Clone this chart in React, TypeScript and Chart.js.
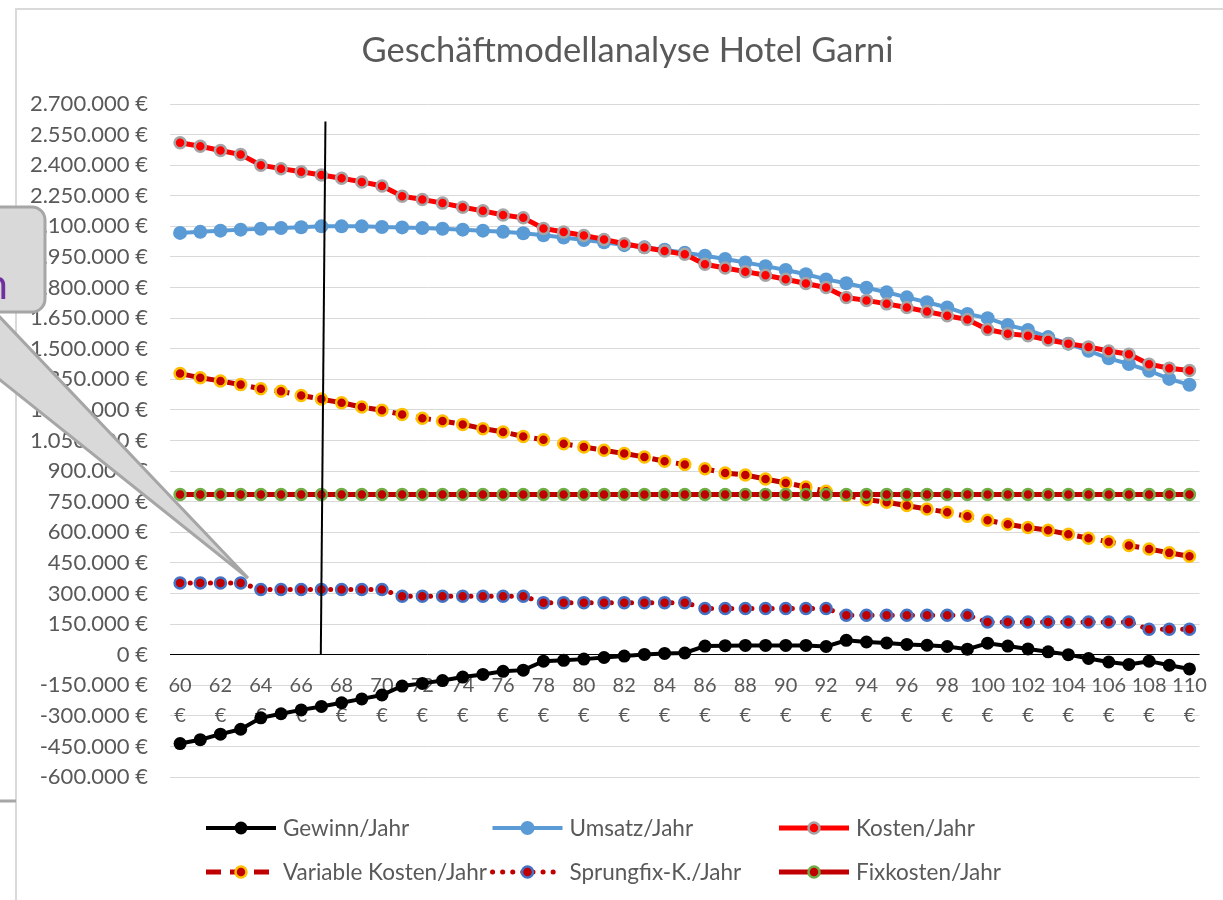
import React, { useEffect, useRef } from 'react';
import { Chart, registerables } from 'chart.js';

Chart.register(...registerables);

const categories = [
  '60 €', '61 €', '62 €', '63 €', '64 €', '65 €', '66 €', '67 €', '68 €', '69 €',
  '70 €', '71 €', '72 €', '73 €', '74 €', '75 €', '76 €', '77 €', '78 €', '79 €',
  '80 €', '81 €', '82 €', '83 €', '84 €', '85 €', '86 €', '87 €', '88 €', '89 €',
  '90 €', '91 €', '92 €', '93 €', '94 €', '95 €', '96 €', '97 €', '98 €', '99 €',
  '100 €', '101 €', '102 €', '103 €', '104 €', '105 €', '106 €', '107 €', '108 €', '109 €', '110 €',
];

const gewinnJahr = [
  -436000, -417000, -390000, -366000, -310000, -290000, -271000, -254000, -236000, -217000,
  -198000, -154000, -141000, -127000, -110000, -97000, -82000, -76000, -32000, -28000,
  -22000, -14000, -7000, 1000, 6000, 8000, 42000, 44000, 45000, 45000,
  45000, 45000, 40000, 70000, 62000, 57000, 50000, 46000, 40000, 27000,
  56000, 42000, 28000, 14000, 0, -19000, -36000, -48000, -32000, -52000, -70000,
];

const umsatzJahr = [
  2068000, 2073000, 2079000, 2084000, 2088000, 2092000, 2096000, 2100000, 2100000, 2100000,
  2097000, 2095000, 2092000, 2088000, 2084000, 2079000, 2073000, 2066000, 2056000, 2045000,
  2033000, 2022000, 2008000, 1997000, 1985000, 1971000, 1956000, 1940000, 1923000, 1905000,
  1886000, 1865000, 1840000, 1821000, 1799000, 1777000, 1752000, 1728000, 1702000, 1670000,
  1650000, 1616000, 1592000, 1557000, 1525000, 1490000, 1453000, 1425000, 1392000, 1352000, 1323000,
];

const kostenJahr = [
  2510000, 2493000, 2472000, 2452000, 2400000, 2383000, 2368000, 2352000, 2336000, 2318000,
  2298000, 2248000, 2232000, 2214000, 2194000, 2176000, 2156000, 2142000, 2090000, 2072000,
  2055000, 2036000, 2015000, 1996000, 1979000, 1963000, 1914000, 1896000, 1878000, 1860000,
  1841000, 1820000, 1800000, 1751000, 1737000, 1720000, 1702000, 1682000, 1662000, 1643000,
  1594000, 1574000, 1564000, 1543000, 1525000, 1509000, 1489000, 1473000, 1424000, 1404000, 1393000,
];

const variableKostenJahr = [
  1378000, 1358000, 1342000, 1324000, 1304000, 1291000, 1271000, 1253000, 1235000, 1214000,
  1198000, 1178000, 1159000, 1146000, 1129000, 1108000, 1092000, 1070000, 1054000, 1034000,
  1018000, 1002000, 986000, 969000, 948000, 932000, 911000, 891000, 881000, 861000,
  842000, 822000, 801000, 781000, 760000, 747000, 731000, 714000, 698000, 678000,
  659000, 639000, 623000, 610000, 590000, 571000, 553000, 535000, 518000, 499000, 482000,
];

const sprungfixJahr = [
  351000, 351000, 351000, 351000, 319000, 319000, 319000, 319000, 319000, 319000,
  319000, 286000, 286000, 286000, 286000, 286000, 286000, 286000, 255000, 255000,
  255000, 255000, 255000, 255000, 255000, 255000, 226000, 226000, 226000, 226000,
  226000, 226000, 226000, 193000, 193000, 193000, 193000, 193000, 193000, 193000,
  160000, 160000, 160000, 160000, 160000, 160000, 160000, 160000, 124000, 124000, 124000,
];

const fixkostenJahr = [
  785000, 785000, 785000, 785000, 785000, 785000, 785000, 785000, 785000, 785000,
  785000, 785000, 785000, 785000, 785000, 785000, 785000, 785000, 785000, 785000,
  785000, 785000, 785000, 785000, 785000, 785000, 785000, 785000, 785000, 785000,
  785000, 785000, 785000, 785000, 785000, 785000, 785000, 785000, 785000, 785000,
  785000, 785000, 785000, 785000, 785000, 785000, 785000, 785000, 785000, 785000, 785000,
];

const yMin = -600000;
const yMax = 2700000;
const yStep = 150000;

const TITLE = 'Geschäftmodellanalyse Hotel Garni';
const FONT = 'Lato, "Open Sans", sans-serif';
const TEXT = '#595959';

function euro(v: number): string {
  const s = Math.round(Math.abs(v)).toString().replace(/\B(?=(\d{3})+(?!\d))/g, '.');
  return (v < 0 ? '-' : '') + s + ' €';
}

const overlayPlugin = {
  id: 'overlay',
  beforeDraw(chart: any) {
    const { ctx, width, height } = chart;
    ctx.save();
    ctx.fillStyle = '#ffffff';
    ctx.fillRect(0, 0, width, height);
    ctx.strokeStyle = '#d9d9d9';
    ctx.lineWidth = 2;
    ctx.beginPath();
    ctx.moveTo(16, height + 5);
    ctx.lineTo(16, 9);
    ctx.lineTo(width + 5, 9);
    ctx.stroke();
    // title
    ctx.fillStyle = TEXT;
    ctx.font = `34.5px ${FONT}`;
    ctx.textAlign = 'center';
    ctx.textBaseline = 'middle';
    ctx.fillText(TITLE, 627.5, 51);
    ctx.restore();
  },
  afterDatasetsDraw(chart: any) {
    const { ctx } = chart;
    const xs = chart.scales.x;
    const ys = chart.scales.y;
    ctx.save();
    ctx.strokeStyle = '#000000';
    ctx.lineWidth = 2;
    ctx.beginPath();
    ctx.moveTo(xs.getPixelForValue(7.2), ys.getPixelForValue(2614000));
    ctx.lineTo(xs.getPixelForValue(6.97), ys.getPixelForValue(0));
    ctx.stroke();
    ctx.restore();
  },
  afterDraw(chart: any) {
    const { ctx } = chart;
    // legend
    chart.data.datasets.forEach((ds: any, i: number) => {
      const col = i % 3;
      const row = Math.floor(i / 3);
      const x0 = 206 + col * 286.5;
      const y = 828 + row * 44;
      ctx.save();
      ctx.strokeStyle = ds.borderColor;
      ctx.lineWidth = ds.borderWidth;
      ctx.setLineDash(ds.borderDash || []);
      ctx.lineCap = ds.borderCapStyle || 'butt';
      ctx.beginPath();
      ctx.moveTo(x0, y);
      ctx.lineTo(x0 + 70, y);
      ctx.stroke();
      ctx.setLineDash([]);
      ctx.beginPath();
      ctx.arc(x0 + 35, y, ds.pointRadius, 0, Math.PI * 2);
      ctx.fillStyle = ds.pointBackgroundColor;
      ctx.fill();
      if (ds.pointBorderWidth > 0) {
        ctx.lineWidth = ds.pointBorderWidth;
        ctx.strokeStyle = ds.pointBorderColor;
        ctx.stroke();
      }
      ctx.fillStyle = TEXT;
      ctx.font = `22.5px ${FONT}`;
      ctx.textBaseline = 'middle';
      ctx.textAlign = 'left';
      ctx.fillText(ds.label, x0 + 77, y + 1);
      ctx.restore();
    });

    // callout shape
    ctx.save();
    const bx1 = 45, by0 = 207, by1 = 312, r = 13;
    ctx.beginPath();
    ctx.moveTo(-150, by0);
    ctx.lineTo(bx1 - r, by0);
    ctx.arcTo(bx1, by0, bx1, by0 + r, r);
    ctx.lineTo(bx1, by1 - r);
    ctx.arcTo(bx1, by1, bx1 - r, by1, r);
    ctx.lineTo(-5, by1);
    ctx.lineTo(248, 578);
    ctx.lineTo(-85, by1);
    ctx.lineTo(-150, by1);
    ctx.closePath();
    ctx.fillStyle = '#d9d9d9';
    ctx.fill();
    ctx.strokeStyle = '#a6a6a6';
    ctx.lineWidth = 3;
    ctx.lineJoin = 'miter';
    ctx.stroke();
    ctx.fillStyle = '#7030a0';
    ctx.font = `42px ${FONT}`;
    ctx.textAlign = 'right';
    ctx.textBaseline = 'alphabetic';
    ctx.fillText('n', 8, 299);
    ctx.fillStyle = '#a6a6a6';
    ctx.fillRect(0, 799.5, 16, 3);
    ctx.restore();
  },
};

export default function App() {
  const ref = useRef<HTMLCanvasElement | null>(null);

  useEffect(() => {
    if (!ref.current) return;
    const pointDefaults = { tension: 0, fill: false };
    const chart = new Chart(ref.current, {
      type: 'line',
      data: {
        labels: categories,
        datasets: [
          {
            ...pointDefaults,
            label: 'Gewinn/Jahr', data: gewinnJahr, order: 6,
            borderColor: '#000000', backgroundColor: '#000000', borderWidth: 4,
            pointRadius: 6.5, pointBackgroundColor: '#000000', pointBorderColor: '#000000', pointBorderWidth: 0,
          },
          {
            ...pointDefaults,
            label: 'Umsatz/Jahr', data: umsatzJahr, order: 5,
            borderColor: '#5b9bd5', backgroundColor: '#5b9bd5', borderWidth: 4,
            pointRadius: 7, pointBackgroundColor: '#5b9bd5', pointBorderColor: '#5b9bd5', pointBorderWidth: 0,
          },
          {
            ...pointDefaults,
            label: 'Kosten/Jahr', data: kostenJahr, order: 4,
            borderColor: '#ff0000', backgroundColor: '#ff0000', borderWidth: 5,
            pointRadius: 5.5, pointBackgroundColor: '#ff0000', pointBorderColor: '#a5a5a5', pointBorderWidth: 2.5,
          },
          {
            ...pointDefaults,
            label: 'Variable Kosten/Jahr', data: variableKostenJahr, order: 3,
            borderColor: '#c00000', backgroundColor: '#c00000', borderWidth: 5, borderDash: [15, 9],
            pointRadius: 5.5, pointBackgroundColor: '#c00000', pointBorderColor: '#ffc000', pointBorderWidth: 2.5,
          },
          {
            ...pointDefaults,
            label: 'Sprungfix-K./Jahr', data: sprungfixJahr, order: 2,
            borderColor: '#c00000', backgroundColor: '#c00000', borderWidth: 5, borderDash: [0.1, 10], borderCapStyle: 'round',
            pointRadius: 5.5, pointBackgroundColor: '#c00000', pointBorderColor: '#4472c4', pointBorderWidth: 2.5,
          },
          {
            ...pointDefaults,
            label: 'Fixkosten/Jahr', data: fixkostenJahr, order: 1,
            borderColor: '#c00000', backgroundColor: '#c00000', borderWidth: 5,
            pointRadius: 5.5, pointBackgroundColor: '#c00000', pointBorderColor: '#70ad47', pointBorderWidth: 2.5,
          },
        ] as any,
      },
      options: {
        responsive: false,
        animation: false,
        devicePixelRatio: 1,
        events: [],
        layout: { padding: { left: 0, right: 13, top: 104, bottom: 123 } },
        plugins: {
          legend: { display: false },
          tooltip: { enabled: false },
          title: { display: false },
        },
        scales: {
          x: {
            type: 'category',
            offset: true,
            position: { y: 0 } as any,
            grid: { display: false, drawTicks: false },
            border: { display: false },
            ticks: {
              autoSkip: false,
              maxRotation: 0,
              minRotation: 0,
              padding: 16,
              color: TEXT,
              font: { family: FONT, size: 20, lineHeight: 1.5 },
              callback: (_v: any, index: number) => (index % 2 === 0 ? categories[index].split(' ') : ''),
            },
          },
          y: {
            type: 'linear',
            min: yMin,
            max: yMax,
            afterFit: (scale: any) => { scale.width = 170; },
            grid: {
              drawTicks: false,
              lineWidth: 1,
              color: (c: any) => (c.tick && c.tick.value === 0 ? '#000000' : '#d9d9d9'),
            },
            border: { display: false },
            ticks: {
              stepSize: yStep,
              padding: 22,
              color: TEXT,
              font: { family: FONT, size: 22 },
              callback: (v: any) => euro(Number(v)),
            },
          },
        },
      },
      plugins: [overlayPlugin],
    });
    return () => chart.destroy();
  }, []);

  return (
    <div style={{ position: 'fixed', left: 0, top: 0, width: 1223, height: 900, background: '#ffffff' }}>
      <canvas ref={ref} width={1223} height={900} style={{ display: 'block', width: 1223, height: 900 }} />
    </div>
  );
}
